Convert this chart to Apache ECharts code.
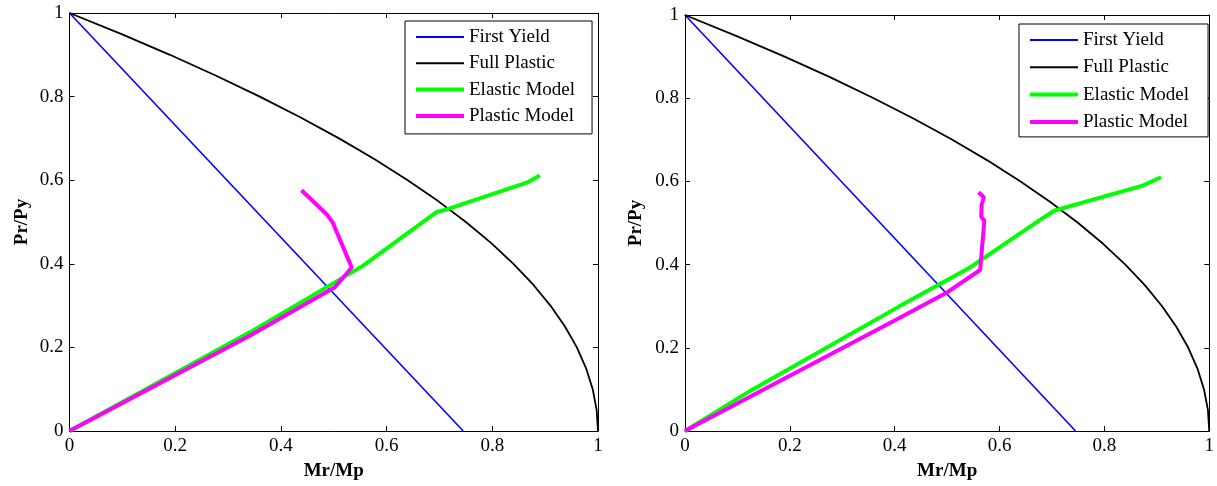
<!DOCTYPE html>
<html>
<head>
<meta charset="utf-8">
<script src="https://cdn.jsdelivr.net/npm/echarts@6/dist/echarts.min.js"></script>
<style>
html,body{margin:0;padding:0;background:#fff;}
#chart{width:1217px;height:486px;}
</style>
</head>
<body>
<div id="chart"></div>
<script>
// ---- data ----
const seriesNames = ['First Yield', 'Full Plastic', 'Elastic Model', 'Plastic Model'];
const tickValues = [0, 0.2, 0.4, 0.6, 0.8, 1];
const tickLabels = ['0', '0.2', '0.4', '0.6', '0.8', '1'];
const xAxisName = 'Mr/Mp';
const yAxisName = 'Pr/Py';

// [Mr/Mp, Pr/Py]
const firstYield = [[0, 1], [0.745, 0]];
const fullPlastic = [
  [1, 0], [0.9975, 0.05], [0.99, 0.1], [0.9775, 0.15], [0.96, 0.2], [0.9375, 0.25],
  [0.91, 0.3], [0.8775, 0.35], [0.84, 0.4], [0.7975, 0.45], [0.75, 0.5], [0.6975, 0.55],
  [0.64, 0.6], [0.5775, 0.65], [0.51, 0.7], [0.4375, 0.75], [0.36, 0.8], [0.2775, 0.85],
  [0.19, 0.9], [0.0975, 0.95], [0, 1]
];
const elasticLeft = [[0, 0], [0.341, 0.236], [0.555, 0.395], [0.695, 0.524], [0.714, 0.530], [0.865, 0.594], [0.890, 0.611]];
const plasticLeft = [[0, 0], [0.341, 0.228], [0.502, 0.344], [0.534, 0.391], [0.498, 0.499], [0.487, 0.518], [0.439, 0.576]];
const elasticRight = [[0, 0], [0.125, 0.097], [0.408, 0.299], [0.541, 0.391], [0.680, 0.510], [0.705, 0.530], [0.873, 0.590], [0.908, 0.610]];
const plasticRight = [[0, 0], [0.408, 0.271], [0.497, 0.331], [0.563, 0.387], [0.571, 0.506], [0.565, 0.515], [0.566, 0.545], [0.570, 0.562], [0.560, 0.574]];

// ---- styling ----
const FONT = "'Liberation Serif', 'Times New Roman', serif";
const colors = ['#0000ff', '#000000', '#00ff00', '#ff00ff'];
const widths = [1.6, 1.8, 4, 4];

function fmt(v) {
  const i = tickValues.findIndex(t => Math.abs(t - v) < 1e-9);
  return i >= 0 ? tickLabels[i] : '';
}

function xAx(grid, pos) {
  const main = pos === 'bottom';
  return {
    type: 'value', gridIndex: grid, position: pos, min: 0, max: 1, interval: 0.2,
    axisLine: { show: true, onZero: false, lineStyle: { color: '#000', width: 1 } },
    axisTick: { show: true, inside: true, length: 5, lineStyle: { color: '#000', width: 1 } },
    axisLabel: { show: main, color: '#000', fontSize: 19, fontFamily: FONT, margin: 6, formatter: fmt },
    splitLine: { show: false },
    name: main ? xAxisName : '', nameLocation: 'middle', nameGap: 31,
    nameTextStyle: { color: '#000', fontSize: 19, fontWeight: 'bold', fontFamily: FONT }
  };
}
function yAx(grid, pos, gap) {
  const main = pos === 'left';
  return {
    type: 'value', gridIndex: grid, position: pos, min: 0, max: 1, interval: 0.2,
    axisLine: { show: true, onZero: false, lineStyle: { color: '#000', width: 1 } },
    axisTick: { show: true, inside: true, length: 5, lineStyle: { color: '#000', width: 1 } },
    axisLabel: { show: main, color: '#000', fontSize: 19, fontFamily: FONT, margin: 6, formatter: fmt },
    splitLine: { show: false },
    name: main ? yAxisName : '', nameLocation: 'middle', nameGap: gap,
    nameTextStyle: { color: '#000', fontSize: 19, fontWeight: 'bold', fontFamily: FONT }
  };
}

function lineSeries(idx, data, xi, yi) {
  return {
    name: seriesNames[idx], type: 'line', data: data, xAxisIndex: xi, yAxisIndex: yi,
    symbol: 'none', showSymbol: false, smooth: false, silent: true, z: 2 + idx,
    color: colors[idx], itemStyle: { color: colors[idx] },
    lineStyle: { color: colors[idx], width: widths[idx] },
    clip: true
  };
}

function legendData() {
  return seriesNames.map((n, i) => ({
    name: n,
    icon: widths[i] > 2 ? 'path://M0,0H48V4H0Z' : 'path://M0,0H48V2H0Z',
    itemStyle: { color: colors[i] }
  }));
}

function legend(left, top, pad, gap) {
  return {
    orient: 'vertical', left: left, top: top, padding: pad, itemGap: gap,
    itemWidth: 48, itemHeight: 14, symbolKeepAspect: true,
    borderColor: '#000', borderWidth: 1, backgroundColor: '#fff',
    selectedMode: false,
    textStyle: { color: '#000', fontSize: 19, fontFamily: FONT, lineHeight: 20 },
    data: legendData()
  };
}

const chart = echarts.init(document.getElementById('chart'));
chart.setOption({
  animation: false,
  backgroundColor: '#fff',
  grid: [
    { left: 69.5, top: 13, width: 528.5, height: 419.5, containLabel: false },
    { left: 685, top: 15, width: 527, height: 418.5, containLabel: false }
  ],
  xAxis: [xAx(0, 'bottom'), xAx(0, 'top'), xAx(1, 'bottom'), xAx(1, 'top')],
  yAxis: [yAx(0, 'left', 38), yAx(0, 'right', 0), yAx(1, 'left', 39.5), yAx(1, 'right', 0)],
  legend: [
    legend(405, 21, [6, 17, 8, 11], 6.3),
    legend(1019, 24, [6, 19, 5, 11], 7.3)
  ],
  series: [
    lineSeries(0, firstYield, 0, 0),
    lineSeries(1, fullPlastic, 0, 0),
    lineSeries(2, elasticLeft, 0, 0),
    lineSeries(3, plasticLeft, 0, 0),
    lineSeries(0, firstYield, 2, 2),
    lineSeries(1, fullPlastic, 2, 2),
    lineSeries(2, elasticRight, 2, 2),
    lineSeries(3, plasticRight, 2, 2)
  ]
});
</script>
</body>
</html>
